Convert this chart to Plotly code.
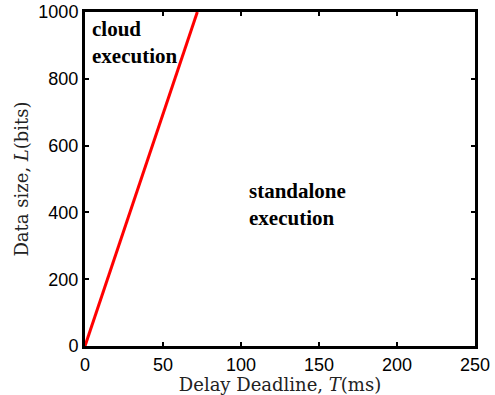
import plotly.graph_objects as go

deadline_ms = [0, 72]
data_bits = [0, 1000]
x_ticks = [0, 50, 100, 150, 200, 250]
y_ticks = [0, 200, 400, 600, 800, 1000]

fig = go.Figure()
fig.add_trace(go.Scatter(x=deadline_ms, y=data_bits, mode="lines",
                         line=dict(color="#ff0000", width=3), showlegend=False))

fig.add_annotation(x=3, y=990, xref="x", yref="y", text="<b>cloud<br>execution</b>",
                   showarrow=False, xanchor="left", yanchor="top", align="left",
                   font=dict(family="Liberation Serif", size=21, color="black"))
fig.add_annotation(x=104, y=505, xref="x", yref="y", text="<b>standalone<br>execution</b>",
                   showarrow=False, xanchor="left", yanchor="top", align="left",
                   font=dict(family="Liberation Serif", size=21, color="black"))

axis_common = dict(showgrid=False, zeroline=False, showline=True, linecolor="black",
                   linewidth=3, mirror="ticks", ticks="inside", ticklen=4, tickwidth=2,
                   tickcolor="black", automargin=False, ticklabeloverflow="allow",
                   tickfont=dict(family="Liberation Sans", size=18, color="black"))

fig.update_xaxes(range=[0, 250], tickvals=x_ticks,
                 title=dict(text="Delay Deadline, <i>T</i>(ms)", standoff=2,
                            font=dict(family="DejaVu Serif", size=18, color="#222")),
                 **axis_common)
fig.update_yaxes(range=[0, 1000], tickvals=y_ticks,
                 title=dict(text="Data size, <i>L</i>(bits)", standoff=6,
                            font=dict(family="DejaVu Serif", size=18, color="#222")),
                 **axis_common)

fig.update_layout(width=495, height=395, plot_bgcolor="white", paper_bgcolor="white",
                  margin=dict(l=85, r=20, t=12, b=49))

# remove the page's default body margin so the figure sits at the top-left corner
fig.write_html("out.html", config={"displayModeBar": False},
               post_script="document.body.style.margin='0px';")
